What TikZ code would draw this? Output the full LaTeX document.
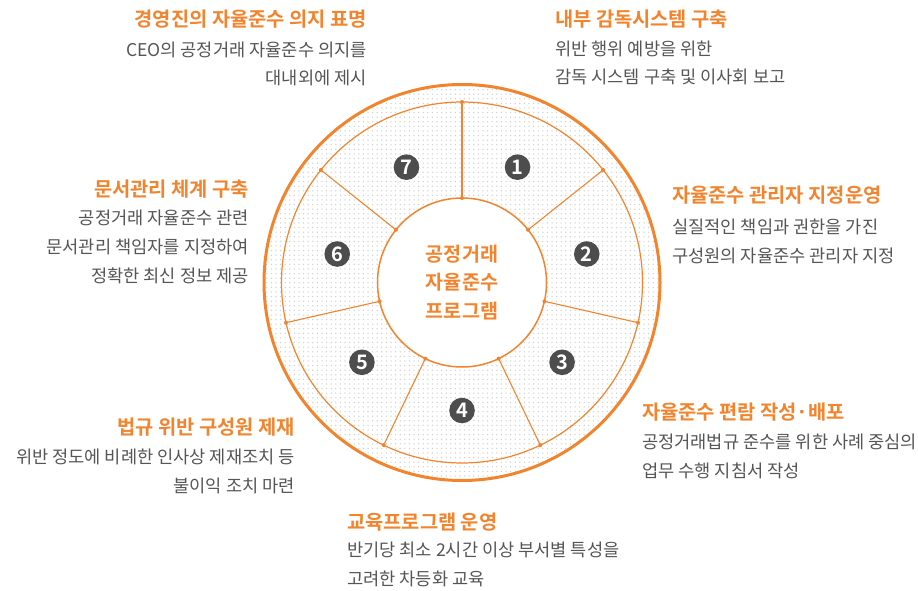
\documentclass[tikz,border=0pt]{standalone}
\usepackage{fontspec}
\setmainfont{Noto Sans CJK KR}[BoldFont={Noto Sans CJK KR Bold}]
\usepackage{tikz}
\usetikzlibrary{positioning,calc,patterns.meta}
\definecolor{accent}{RGB}{242,132,46}
\definecolor{bodytext}{RGB}{85,85,85}
\definecolor{badge}{RGB}{77,77,77}
\definecolor{dotgray}{RGB}{208,208,208}

\tikzdeclarepattern{
  name=ringdots,
  type=uncolored,
  bounding box={(-2.3pt,-2.3pt) and (2.3pt,2.3pt)},
  tile size={(4.6pt,4.6pt)},
  code={\fill (0pt,0pt) circle (0.75pt);}
}

\begin{document}
\begin{tikzpicture}[x=1pt, y=1pt,
    title/.style={text=accent, font=\fontsize{19.8}{28}\selectfont\bfseries, inner sep=0pt},
    desc/.style={text=bodytext, font=\fontsize{17.6}{28.7}\selectfont, inner sep=0pt},
    num/.style={circle, fill=badge, text=white, minimum size=25.6pt, inner sep=0pt, font=\fontsize{20}{20}\selectfont\bfseries}]
    \useasboundingbox (0,0) rectangle (918,-591);
    \coordinate (c) at (462,-282.5);

    % ring
    \fill[pattern=ringdots, pattern color=dotgray, even odd rule] (c) circle (198pt) (c) circle (84.5pt);
    \draw[accent, line width=3pt] (c) circle (198pt);
    \draw[accent, line width=1.2pt] (c) circle (180.5pt);
    \node[circle, draw=accent, line width=1.5pt, minimum size=169pt, inner sep=0pt, align=center, text=accent, font=\fontsize{19.6}{28.7}\selectfont\bfseries] (prog) at (c) {공정거래\\자율준수\\프로그램};

    \foreach \k in {0,...,6} {
        \coordinate (in\k) at ($(c)+({90-51.4286*\k}:84.5pt)$);
        \coordinate (out\k) at ($(c)+({90-51.4286*\k}:180.5pt)$);
        \draw[accent, line width=1.1pt] (in\k) -- (out\k);
        \fill[accent] (in\k) circle (2pt) (out\k) circle (2pt);
    }
    \foreach \k in {1,...,7}
        \node[num] (n\k) at ($(c)+({90-51.4286*(\k-0.5)}:128pt)$) {\k};

    % labels (desc nodes sit on the baseline of their last line)
    \node[title, anchor=base west] (t1) at (555,-27) {내부 감독시스템 구축};
    \node[desc, anchor=base west, align=left] (d1) at (555,-84) {위반 행위 예방을 위한\\감독 시스템 구축 및 이사회 보고};

    \node[title, anchor=base west] (t2) at (672,-202) {자율준수 관리자 지정운영};
    \node[desc, anchor=base west, align=left] (d2) at (672,-262) {실질적인 책임과 권한을 가진\\구성원의 자율준수 관리자 지정};

    \node[title, anchor=base west] (t3) at (642,-419) {자율준수 편람 작성·배포};
    \node[desc, anchor=base west, align=left] (d3) at (642,-477) {공정거래법규 준수를 위한 사례 중심의\\업무 수행 지침서 작성};

    \node[title, anchor=base west] (t4) at (347,-529) {교육프로그램 운영};
    \node[desc, anchor=base west, align=left] (d4) at (347,-585) {반기당 최소 2시간 이상 부서별 특성을\\고려한 차등화 교육};

    \node[title, anchor=base east] (t5) at (295,-434) {법규 위반 구성원 제재};
    \node[desc, anchor=base east, align=right] (d5) at (295,-492) {위반 정도에 비례한 인사상 제재조치 등\\불이익 조치 마련};

    \node[title, anchor=base east] (t6) at (249,-196) {문서관리 체계 구축};
    \node[desc, anchor=base east, align=right] (d6) at (249,-282) {공정거래 자율준수 관련\\문서관리 책임자를 지정하여\\정확한 최신 정보 제공};

    \node[title, anchor=base east] (t7) at (367,-27) {경영진의 자율준수 의지 표명};
    \node[desc, anchor=base east, align=right] (d7) at (367,-85) {CEO의 공정거래 자율준수 의지를\\대내외에 제시};
\end{tikzpicture}
\end{document}
